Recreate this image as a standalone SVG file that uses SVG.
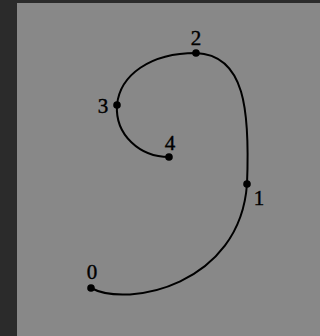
<svg xmlns="http://www.w3.org/2000/svg" width="320" height="336" viewBox="0 0 320 336">
<style>
.lbl{font-family:"Liberation Serif","DejaVu Serif",serif;font-size:21px;fill:#000;stroke:#000;stroke-width:0.4;text-anchor:middle}
.pt{fill:#000}
.curve{fill:none;stroke:#000;stroke-width:2}
</style>
<rect x="0" y="0" width="320" height="336" fill="#2b2b2b"/>
<rect x="17" y="3" width="303" height="333" fill="#888888"/>
<g id="connectors">
<path class="curve" d="M91,288 C128,308 240,285 247,184 C250,110 245,55 196,53 C150,53 120,75 117,105 C115,135 140,157 169,157"/>
</g>
<g id="p0"><circle class="pt" cx="91" cy="288" r="3.8"/><text class="lbl" x="92" y="279">0</text></g>
<g id="p1"><circle class="pt" cx="247" cy="184" r="3.8"/><text class="lbl" x="259" y="205">1</text></g>
<g id="p2"><circle class="pt" cx="196" cy="53" r="3.8"/><text class="lbl" x="196" y="45">2</text></g>
<g id="p3"><circle class="pt" cx="117" cy="105" r="3.8"/><text class="lbl" x="103" y="113">3</text></g>
<g id="p4"><circle class="pt" cx="169" cy="157" r="3.8"/><text class="lbl" x="170" y="150">4</text></g>
</svg>
